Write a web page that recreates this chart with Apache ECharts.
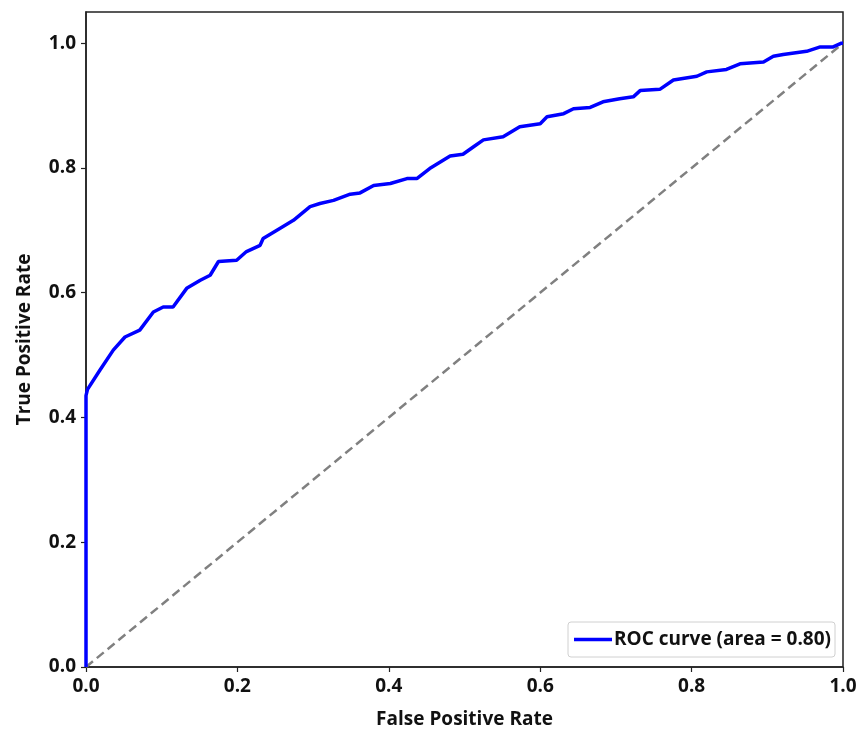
<!DOCTYPE html>
<html>
<head>
<meta charset="utf-8">
<script src="https://cdn.jsdelivr.net/npm/echarts@6/dist/echarts.min.js"></script>
<style>html,body{margin:0;padding:0;background:#fff}#c{width:866px;height:731px}</style>
</head>
<body>
<div id="c"></div>
<script>
var fpr = [0, 0, 0, 0.002, 0.0185, 0.036, 0.0515, 0.071, 0.089, 0.102, 0.115, 0.133, 0.151, 0.164, 0.175, 0.199, 0.212, 0.230, 0.234, 0.256, 0.274, 0.296, 0.309, 0.327, 0.349, 0.362, 0.380, 0.402, 0.424, 0.437, 0.454, 0.481, 0.498, 0.512, 0.525, 0.551, 0.573, 0.600, 0.609, 0.631, 0.644, 0.666, 0.683, 0.705, 0.723, 0.732, 0.758, 0.776, 0.807, 0.820, 0.846, 0.864, 0.895, 0.908, 0.921, 0.952, 0.970, 0.987, 0.998, 1.0];
var tpr = [0, 0.42, 0.435, 0.445, 0.476, 0.508, 0.529, 0.540, 0.569, 0.577, 0.577, 0.607, 0.620, 0.628, 0.650, 0.652, 0.666, 0.676, 0.687, 0.703, 0.716, 0.738, 0.743, 0.748, 0.758, 0.760, 0.772, 0.775, 0.783, 0.783, 0.799, 0.819, 0.822, 0.834, 0.845, 0.850, 0.866, 0.871, 0.882, 0.887, 0.895, 0.897, 0.906, 0.911, 0.914, 0.924, 0.926, 0.941, 0.947, 0.954, 0.958, 0.967, 0.970, 0.979, 0.982, 0.987, 0.994, 0.994, 1.0, 1.0];
var chanceX = [0, 1];
var chanceY = [0, 1];
var tickValues = [0, 0.2, 0.4, 0.6, 0.8, 1.0];
var rocName = 'ROC curve (area = 0.80)';

var roc = fpr.map(function (v, i) { return [v, tpr[i]]; });
var chance = chanceX.map(function (v, i) { return [v, chanceY[i]]; });
var font = 'Open Sans';
var chart = echarts.init(document.getElementById('c'));
chart.setOption({
  animation: false,
  backgroundColor: '#fff',
  grid: { left: 86, right: 23, top: 12, bottom: 64, show: true, borderColor: '#222', borderWidth: 1.5, backgroundColor: 'transparent', containLabel: false, outerBoundsMode: 'none' },
  xAxis: {
    type: 'value', min: 0, max: 1, interval: 0.2,
    name: 'False Positive Rate', nameLocation: 'middle', nameGap: 43,
    nameTextStyle: { fontFamily: font, fontWeight: 'bold', fontSize: 19, color: '#111' },
    axisLine: { show: true, onZero: false, lineStyle: { color: '#222', width: 1.5 } },
    axisTick: { show: true, length: 5, lineStyle: { color: '#222', width: 1.2 } },
    axisLabel: { fontFamily: font, fontWeight: 'bold', fontSize: 19, color: '#111', margin: 10, formatter: function (v) { return v.toFixed(1); } },
    splitLine: { show: false }
  },
  yAxis: {
    type: 'value', min: 0, max: 1.05,
    name: 'True Positive Rate', nameLocation: 'middle', nameGap: 52,
    nameTextStyle: { fontFamily: font, fontWeight: 'bold', fontSize: 19, color: '#111' },
    axisLine: { show: true, onZero: false, lineStyle: { color: '#222', width: 1.5 } },
    axisTick: { show: true, length: 5, customValues: tickValues, lineStyle: { color: '#222', width: 1.2 } },
    axisLabel: { fontFamily: font, fontWeight: 'bold', fontSize: 19, color: '#111', margin: 10, customValues: tickValues, formatter: function (v) { return v.toFixed(1); } },
    splitLine: { show: false }
  },
  legend: {
    right: 31, bottom: 74,
    data: [{ name: rocName, icon: 'rect' }],
    itemWidth: 38, itemHeight: 3.5, itemGap: 4,
    backgroundColor: '#fff', borderColor: '#d0d0d0', borderWidth: 1, borderRadius: 3,
    padding: [8, 4, 8, 6],
    textStyle: { fontFamily: font, fontWeight: 'bold', fontSize: 19, color: '#111', padding: [0, 0, 0, -3] }
  },
  series: [
    {
      name: 'chance', type: 'line', data: chance, symbol: 'none', silent: true,
      lineStyle: { color: '#808080', width: 2.5, type: [9, 5] }, z: 2
    },
    {
      name: rocName, type: 'line', data: roc, symbol: 'none',
      itemStyle: { color: '#0000ff' },
      lineStyle: { color: '#0000ff', width: 3.5 }, z: 3
    }
  ]
});
</script>
</body>
</html>
